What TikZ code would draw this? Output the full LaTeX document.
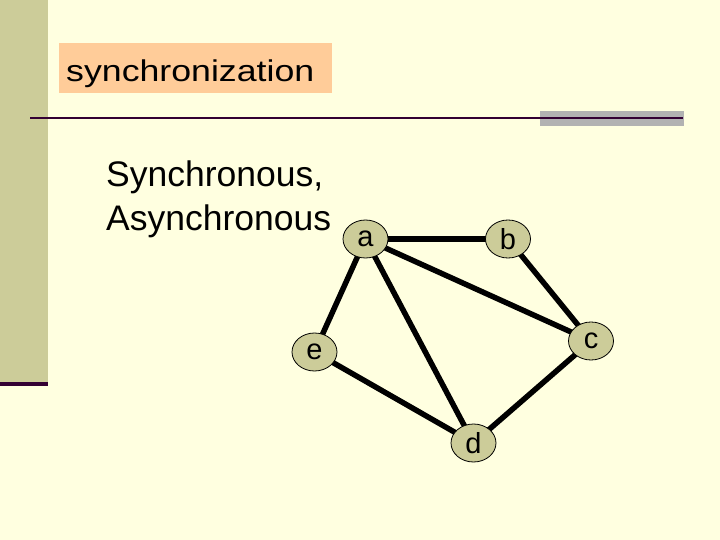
\documentclass[tikz,border=0pt]{standalone}
\usepackage{fontspec}
\setmainfont{Liberation Sans}
\usetikzlibrary{shapes.geometric,backgrounds}
\definecolor{bgc}{RGB}{255,255,224}
\definecolor{barc}{RGB}{204,204,153}
\definecolor{titlec}{RGB}{255,204,153}
\definecolor{linec}{RGB}{51,0,51}
\definecolor{greyc}{RGB}{178,178,178}
\definecolor{nodec}{RGB}{204,204,153}
\tikzset{
  vert/.style={ellipse, draw=black, line width=0.8pt, fill=nodec, minimum width=45pt, minimum height=38pt, inner sep=0pt, font=\fontsize{29}{29}\selectfont},
  edge/.style={line width=5.5pt, draw=black},
  bodytext/.style={anchor=base west, inner sep=0pt, font=\fontsize{35.5}{43}\selectfont}
}
\begin{document}
\begin{tikzpicture}[x=1pt,y=-1pt]
\useasboundingbox (0,0) rectangle (720,540);
\begin{pgfonlayer}{background}
\fill[bgc] (0,0) rectangle (720,540);
\fill[barc] (0,0) rectangle (48,382);
\fill[linec] (0,382) rectangle (48,386);
\fill[greyc] (540,111) rectangle (684,126);
\draw[linec, line width=2.5pt] (30,118) -- (683,118);
\fill[titlec] (59,43) rectangle (332,93);
\end{pgfonlayer}
\node[anchor=base west, inner sep=0pt] (title) at (66,81.5) {\fontsize{30}{30}\selectfont\scalebox{1.19}[1]{synchronization}};
\node[bodytext] (body1) at (106,187) {Synchronous,};
\node[bodytext] (body2) at (106,230) {Asynchronous};
\node[vert] (a) at (365.5,239) {a};
\node[vert] (b) at (508,239) {b};
\node[vert] (c) at (591,341) {c};
\node[vert] (e) at (314.5,352) {e};
\node[vert] (d) at (473.5,443) {d};
\begin{pgfonlayer}{background}
\draw[edge] (a.center) -- (b.center);
\draw[edge] (a.center) -- (e.center);
\draw[edge] (a.center) -- (d.center);
\draw[edge] (a.center) -- (c.center);
\draw[edge] (b.center) -- (c.center);
\draw[edge] (c.center) -- (d.center);
\draw[edge] (e.center) -- (d.center);
\end{pgfonlayer}
\end{tikzpicture}
\end{document}
